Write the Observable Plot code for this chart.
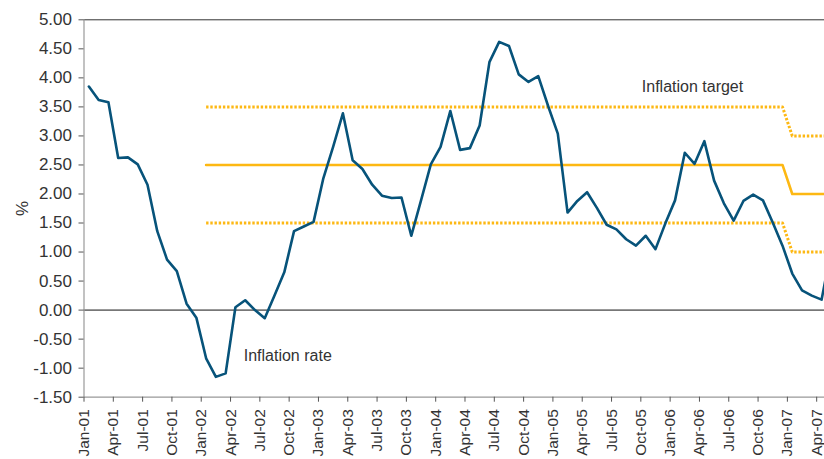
<!DOCTYPE html>
<html>
<head>
<meta charset="utf-8">
<script src="https://cdn.jsdelivr.net/npm/d3@7"></script>
<script src="https://cdn.jsdelivr.net/npm/@observablehq/plot@0.6"></script>
<style>
  html, body { margin: 0; padding: 0; background: #fff; }
</style>
</head>
<body>
<div id="chart"></div>
<script>
// Month-category tick labels (every 3 months, starting Jan-01 = category 0)
const tickLabels = [
  "Jan-01","Apr-01","Jul-01","Oct-01",
  "Jan-02","Apr-02","Jul-02","Oct-02",
  "Jan-03","Apr-03","Jul-03","Oct-03",
  "Jan-04","Apr-04","Jul-04","Oct-04",
  "Jan-05","Apr-05","Jul-05","Oct-05",
  "Jan-06","Apr-06","Jul-06","Oct-06",
  "Jan-07","Apr-07"
];
const yTicks = [-1.5, -1.0, -0.5, 0, 0.5, 1.0, 1.5, 2.0, 2.5, 3.0, 3.5, 4.0, 4.5, 5.0];

// Monthly inflation rate (%), Jan-01 .. May-07
const inflation = [
  3.85, 3.62, 3.58, 2.62, 2.63, 2.51, 2.16, 1.36, 0.87, 0.67, 0.11, -0.13,
  -0.83, -1.15, -1.09, 0.05, 0.17, 0.00, -0.14, 0.25, 0.65, 1.36, 1.44, 1.52,
  2.27, 2.81, 3.39, 2.58, 2.43, 2.16, 1.97, 1.93, 1.94, 1.28, 1.89, 2.51,
  2.81, 3.43, 2.76, 2.79, 3.18, 4.27, 4.62, 4.55, 4.06, 3.93, 4.03, 3.52,
  3.04, 1.68, 1.88, 2.03, 1.76, 1.47, 1.39, 1.22, 1.11, 1.28, 1.05, 1.49,
  1.89, 2.71, 2.52, 2.91, 2.23, 1.84, 1.54, 1.88, 1.99, 1.89, 1.51, 1.11,
  0.63, 0.34, 0.25, 0.18, 1.05
];

// Inflation target regime (month categories: Jan-02, Dec-06, Jan-07, May-07)
const targetMonths = [12, 71, 72, 76];
const targetCentral = [2.5, 2.5, 2.0, 2.0];
const targetUpper   = [3.5, 3.5, 3.0, 3.0];
const targetLower   = [1.5, 1.5, 1.0, 1.0];

// Annotations (label, month category, value)
const annoLabels = ["Inflation rate", "Inflation target"];
const annoMonths = [16.35, 57.1];
const annoValues = [-0.78, 3.85];

const inflData = inflation.map((v, i) => ({x: i + 0.5, y: v}));
const tgt = (arr) => targetMonths.map((m, i) => ({x: m + 0.5, y: arr[i]}));
const annos = annoLabels.map((t, i) => ({x: annoMonths[i], y: annoValues[i], t}));

const amber = "#FDB813";
const blue = "#07537A";

const chart = Plot.plot({
  width: 824,
  height: 459,
  marginLeft: 83.5,
  marginRight: 0,
  marginTop: 19.3,
  marginBottom: 62.3,
  style: {fontFamily: "'Liberation Sans', Arial, sans-serif", fontSize: "17px", color: "#333", background: "#fff"},
  x: {domain: [0, 75.8]},
  y: {domain: [-1.5, 5]},
  marks: [
    Plot.ruleY([5], {stroke: "#333", strokeWidth: 1}),
    Plot.ruleY([0], {stroke: "#777", strokeWidth: 1.6}),
    Plot.ruleX([0], {stroke: "#999", strokeWidth: 1.2}),
    Plot.ruleY([-1.5], {stroke: "#999", strokeWidth: 1.2}),
    Plot.axisY({
      ticks: yTicks,
      tickFormat: d => d.toFixed(2),
      tickSize: 5,
      tickPadding: 7,
      stroke: "#555",
      fill: "#333",
      label: "%",
      labelAnchor: "center",
      labelArrow: "none",
      labelOffset: 68
    }),
    Plot.axisX({
      ticks: tickLabels.map((_, k) => 3 * k),
      tickFormat: d => tickLabels[Math.round(d / 3)],
      tickRotate: -90,
      tickSize: 5,
      tickPadding: 7,
      fontSize: 15.5,
      stroke: "#555",
      fill: "#333",
      label: null
    }),
    Plot.line(tgt(targetUpper), {x: "x", y: "y", stroke: amber, strokeWidth: 3, strokeDasharray: "2.4,1.8", strokeLinecap: "butt", clip: true}),
    Plot.line(tgt(targetLower), {x: "x", y: "y", stroke: amber, strokeWidth: 3, strokeDasharray: "2.4,1.8", strokeLinecap: "butt", clip: true}),
    Plot.line(tgt(targetCentral), {x: "x", y: "y", stroke: amber, strokeWidth: 2.6, clip: true}),
    Plot.line(inflData, {x: "x", y: "y", stroke: blue, strokeWidth: 2.6, clip: true}),
    Plot.text(annos, {x: "x", y: "y", text: "t", textAnchor: "start", fontSize: 16, fill: "#333"})
  ]
});
document.getElementById("chart").appendChild(chart);
</script>
</body>
</html>
